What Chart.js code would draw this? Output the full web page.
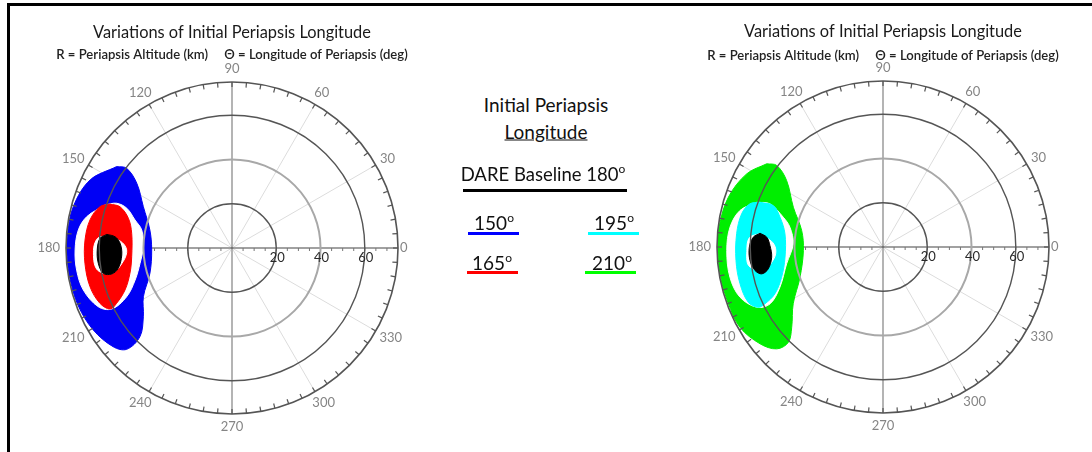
<!DOCTYPE html>
<html lang="en">
<head>
    <meta charset="UTF-8">
    <title>Variations of Initial Periapsis Longitude</title>
    <script src="https://cdn.jsdelivr.net/npm/chart.js"></script>
    <style>
        body {
            margin: 0;
            background: #fff;
            font-family: Lato, "Open Sans", Arial, sans-serif;
        }

        .page {
            position: relative;
            width: 1092px;
            height: 452px;
            overflow: hidden;
        }

        .frame-top { position: absolute; left: 7px; top: 3px; width: 1085px; height: 3px; background: #000; }
        .frame-left { position: absolute; left: 7px; top: 3px; width: 3px; height: 449px; background: #000; }

        #leftWrap { position: absolute; left: 0; top: 0; }
        #rightWrap { position: absolute; left: 651px; top: -1px; }

        .txt {
            position: absolute;
            transform: translate(-50%, -50%);
            white-space: nowrap;
            color: #111;
            font-size: 19px;
        }
        .txt sup { font-size: 12px; }

        .bar { position: absolute; height: 3px; }
    </style>
</head>
<body>
<div class="page">
    <div id="leftWrap"><canvas id="leftChart" width="465" height="452"></canvas></div>
    <div id="rightWrap"><canvas id="rightChart" width="441" height="452"></canvas></div>

    <div class="frame-top"></div>
    <div class="frame-left"></div>

    <!-- middle key -->
    <div class="txt" style="left:546px; top:104px;">Initial Periapsis</div>
    <div class="txt" style="left:546px; top:131px; text-decoration:underline;">Longitude</div>
    <div class="txt" style="left:543px; top:173px; font-size:18.5px;">DARE Baseline 180<sup>o</sup></div>
    <div class="bar" style="left:463px; top:189px; width:164px; background:#000;"></div>

    <div class="txt" style="left:494px; top:222px;">150<sup>o</sup></div>
    <div class="bar" style="left:468px; top:232px; width:51px; background:#0000ff;"></div>
    <div class="txt" style="left:614px; top:222px;">195<sup>o</sup></div>
    <div class="bar" style="left:588px; top:232px; width:51px; background:#00ffff;"></div>

    <div class="txt" style="left:492px; top:262px;">165<sup>o</sup></div>
    <div class="bar" style="left:467px; top:271px; width:51px; background:#ff0000;"></div>
    <div class="txt" style="left:612px; top:262px;">210<sup>o</sup></div>
    <div class="bar" style="left:585px; top:271px; width:51px; background:#00ff00;"></div>
</div>

<script>
    // axis values
    const rMax = 75;
    const radiusTicks = [20, 40, 60];
    const angleTicks = [0, 30, 60, 90, 120, 150, 180, 210, 240, 270, 300, 330];

    // left plot: 150 deg (blue) and 165 deg (red) around the 180 deg baseline (black)
    // outlines of each point cloud, theta in deg, r in km
    const lon150Theta = [144.8, 154.4, 165.4, 176.1, 183.0, 191.1, 200.7, 210.6, 219.7, 223.9, 223.9, 217.8, 208.8, 197.1, 181.4, 167.6, 155.0, 145.8, 142.9];
    const lon150R     = [63.8, 71.1, 74.1, 74.6, 74.6, 74.5, 74.2, 72.8, 69.8, 66.0, 57.7, 50.7, 45.7, 38.8, 36.3, 38.0, 44.2, 52.0, 59.7];
    const gap150Theta = [161.3, 167.8, 173.3, 180.7, 188.1, 195.8, 203.7, 206.9, 204.8, 198.3, 189.4, 179.2, 168.7, 163.9, 159.3, 158.8];
    const gap150R     = [60.6, 67.1, 69.9, 70.9, 70.9, 69.8, 66.0, 60.9, 52.4, 46.1, 42.1, 40.1, 41.6, 45.6, 50.8, 55.9];
    const lon165Theta = [160.2, 159.8, 164.0, 171.7, 185.0, 193.9, 201.4, 205.6, 206.6, 202.7, 195.2, 185.9, 176.9, 168.8, 162.6];
    const lon165R     = [58.6, 53.9, 48.7, 45.8, 45.5, 47.5, 51.9, 57.8, 61.6, 64.7, 66.5, 66.8, 66.5, 65.4, 62.5];
    const gap165Theta = [174.5, 176.5, 181.0, 187.0, 192.0, 189.0, 181.0, 176.0];
    const gap165R     = [57.5, 50.5, 47.6, 49.5, 55.6, 61.8, 62.6, 61.0];
    const baseLeftTheta = [173.8, 174.5, 177.6, 183.6, 190.1, 192.2, 191.1, 186.5, 180.9, 175.8];
    const baseLeftR     = [56.9, 53.1, 50.6, 49.9, 52.2, 55.6, 59.3, 60.8, 60.9, 59.8];

    // right plot: 210 deg (green) and 195 deg (cyan) around the 180 deg baseline (black)
    const lon210Theta = [144.4, 151.8, 162.2, 173.1, 181.2, 190.4, 199.8, 209.3, 218.2, 223.8, 225.2, 221.3, 212.3, 200.0, 182.5, 168.5, 156.1, 145.4, 142.5];
    const lon210R     = [64.6, 69.9, 73.4, 74.6, 74.6, 74.6, 74.4, 74.1, 70.7, 66.5, 60.7, 54.9, 48.0, 39.9, 36.0, 37.5, 44.3, 52.9, 60.5];
    const gap210Theta = [160.5, 165.7, 172.6, 181.3, 191.2, 199.3, 205.5, 206.7, 201.3, 189.9, 178.0, 168.0, 163.4, 159.1];
    const gap210R     = [60.5, 66.7, 69.7, 70.6, 70.5, 68.5, 63.2, 57.1, 50.0, 44.2, 40.6, 43.0, 47.0, 54.7];
    const lon195Theta = [160.0, 159.3, 163.9, 172.3, 185.9, 196.6, 203.4, 205.7, 205.8, 202.3, 194.4, 185.2, 174.8, 166.8, 162.0];
    const lon195R     = [59.1, 53.0, 48.4, 44.7, 44.5, 47.8, 53.2, 59.2, 62.6, 65.8, 66.7, 66.7, 66.4, 65.6, 63.2];
    const gap195Theta = [174.0, 177.0, 181.0, 186.0, 191.0, 188.0, 181.0, 176.0];
    const gap195R     = [56.5, 50.5, 48.5, 49.5, 55.0, 61.2, 61.5, 60.5];
    const baseRightTheta = [173.6, 175.2, 179.2, 185.2, 190.8, 192.5, 190.4, 185.8, 180.1, 175.7];
    const baseRightR     = [55.9, 52.7, 51.1, 50.5, 52.8, 56.1, 58.8, 60.4, 60.4, 58.8];

    // plot box: wider than tall so the titles have room, x range stretched to keep circles round
    const areaW = 404, areaH = 332;
    const xHalf = rMax * areaW / areaH;

    // polar -> x/y values for the linear scales (closed outline)
    function toXY(thetas, rs) {
        const pts = thetas.map((t, i) => {
            const a = t * Math.PI / 180;
            return { x: rs[i] * Math.cos(a), y: rs[i] * Math.sin(a) };
        });
        pts.push(pts[0]);
        return pts;
    }

    function blob(thetas, rs, color, order) {
        return {
            data: toXY(thetas, rs),
            showLine: true,
            fill: 'shape',
            backgroundColor: color,
            borderColor: color,
            borderWidth: 1,
            pointRadius: 0,
            tension: 0.35,
            order: order,
            clip: false
        };
    }

    // polar grid drawn from the x/y scales
    const polarGrid = {
        id: 'polarGrid',
        beforeDatasetsDraw(chart) {
            const ctx = chart.ctx;
            const sx = chart.scales.x, sy = chart.scales.y;
            const cx = sx.getPixelForValue(0), cy = sy.getPixelForValue(0);
            const R = sx.getPixelForValue(rMax) - cx;
            ctx.save();
            // light spokes every 30 deg
            ctx.strokeStyle = '#dcdcdc';
            ctx.lineWidth = 1;
            for (let a = 0; a < 360; a += 30) {
                if (a % 90 === 0) continue;
                const rad = a * Math.PI / 180;
                ctx.beginPath();
                ctx.moveTo(cx, cy);
                ctx.lineTo(cx + R * Math.cos(rad), cy - R * Math.sin(rad));
                ctx.stroke();
            }
            // vertical axis
            ctx.strokeStyle = '#8c8c8c';
            ctx.lineWidth = 1.3;
            ctx.beginPath();
            ctx.moveTo(cx, cy - R);
            ctx.lineTo(cx, cy + R);
            ctx.stroke();
            // horizontal axis
            ctx.strokeStyle = '#444';
            ctx.lineWidth = 1.2;
            ctx.beginPath();
            ctx.moveTo(cx - R, cy);
            ctx.lineTo(cx + R, cy);
            ctx.stroke();
            // radial ticks along the axis
            ctx.lineWidth = 1;
            ctx.strokeStyle = '#777';
            for (let v = 5; v < rMax; v += 5) {
                const px = sx.getPixelForValue(v) - cx;
                ctx.beginPath();
                ctx.moveTo(cx + px, cy);
                ctx.lineTo(cx + px, cy + 3);
                ctx.moveTo(cx - px, cy);
                ctx.lineTo(cx - px, cy + 3);
                ctx.stroke();
            }
            ctx.restore();
        },
        afterDatasetsDraw(chart) {
            const ctx = chart.ctx;
            const sx = chart.scales.x, sy = chart.scales.y;
            const cx = sx.getPixelForValue(0), cy = sy.getPixelForValue(0);
            const R = sx.getPixelForValue(rMax) - cx;
            ctx.save();
            // range rings
            radiusTicks.forEach(v => {
                const r = sx.getPixelForValue(v) - cx;
                ctx.beginPath();
                ctx.arc(cx, cy, r, 0, Math.PI * 2);
                ctx.strokeStyle = v === 40 ? '#a8a8a8' : '#555';
                ctx.lineWidth = v === 40 ? 2 : 1.4;
                ctx.stroke();
            });
            // outer ring with 5 deg ticks
            ctx.strokeStyle = '#555';
            ctx.lineWidth = 1.6;
            ctx.beginPath();
            ctx.arc(cx, cy, R, 0, Math.PI * 2);
            ctx.stroke();
            ctx.lineWidth = 1.2;
            for (let a = 0; a < 360; a += 5) {
                const rad = a * Math.PI / 180;
                const c = Math.cos(rad), s = Math.sin(rad);
                ctx.beginPath();
                ctx.moveTo(cx + (R - 5) * c, cy - (R - 5) * s);
                ctx.lineTo(cx + R * c, cy - R * s);
                ctx.stroke();
            }
            // angle labels
            ctx.font = '13px Lato, "Open Sans", sans-serif';
            ctx.fillStyle = '#858585';
            ctx.textAlign = 'center';
            ctx.textBaseline = 'middle';
            angleTicks.forEach(a => {
                const rad = a * Math.PI / 180;
                const c = Math.cos(rad), s = Math.sin(rad);
                const label = String(a);
                const w = ctx.measureText(label).width;
                const rl = a === 0 ? R + 2 : R + 6;
                const x = cx + rl * c + c * w / 2;
                const y = cy - rl * s - s * 7;
                ctx.fillText(label, x, y);
            });
            // radius labels
            ctx.fillStyle = '#2a2a2a';
            radiusTicks.forEach(v => {
                const x = sx.getPixelForValue(v);
                ctx.fillText(String(v), x + 1, cy + 10);
            });
            ctx.restore();
        }
    };

    function makeChart(id, width, subPad, layers) {
        const padLeft = 232 - areaW / 2;
        return new Chart(document.getElementById(id), {
            type: 'scatter',
            data: { datasets: layers },
            options: {
                responsive: false,
                animation: false,
                layout: { padding: { left: padLeft, right: width - padLeft - areaW, top: 0, bottom: 38 } },
                plugins: {
                    legend: { display: false },
                    tooltip: { enabled: false },
                    title: {
                        display: true,
                        text: 'Variations of Initial Periapsis Longitude',
                        color: '#1a1a1a',
                        font: { family: 'Lato', size: 16.4, weight: 'normal' },
                        padding: { top: 23, bottom: 2 }
                    },
                    subtitle: {
                        display: true,
                        text: 'R = Periapsis Altitude (km)     \u0398 = Longitude of Periapsis (deg)',
                        color: '#222',
                        font: { family: 'Lato', size: 13.1, weight: '600' },
                        padding: { top: subPad, bottom: 21.6 - subPad }
                    }
                },
                scales: {
                    x: { type: 'linear', min: -xHalf, max: xHalf, display: false },
                    y: { type: 'linear', min: -rMax, max: rMax, display: false }
                }
            },
            plugins: [polarGrid]
        });
    }

    makeChart('leftChart', 465, 2, [
        blob(lon150Theta, lon150R, '#0000f5', 5),
        blob(gap150Theta, gap150R, '#ffffff', 4),
        blob(lon165Theta, lon165R, '#ff0000', 3),
        blob(gap165Theta, gap165R, '#ffffff', 2),
        blob(baseLeftTheta, baseLeftR, '#000000', 1)
    ]);

    makeChart('rightChart', 441, 4, [
        blob(lon210Theta, lon210R, '#00ee00', 5),
        blob(gap210Theta, gap210R, '#ffffff', 4),
        blob(lon195Theta, lon195R, '#00ffff', 3),
        blob(gap195Theta, gap195R, '#ffffff', 2),
        blob(baseRightTheta, baseRightR, '#000000', 1)
    ]);
</script>
</body>
</html>
